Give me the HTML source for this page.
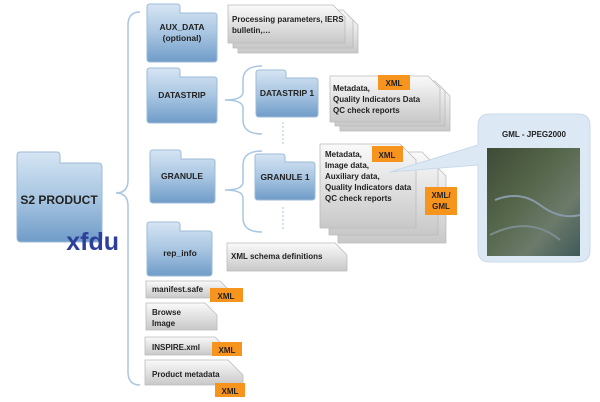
<!DOCTYPE html>
<html><head><meta charset="utf-8"><style>
html,body{margin:0;padding:0;background:#fff;width:600px;height:402px;overflow:hidden}
text{font-family:"Liberation Sans",sans-serif;font-weight:bold;fill:#222}
</style></head><body>
<svg width="600" height="402" viewBox="0 0 600 402" xmlns="http://www.w3.org/2000/svg">
<defs>
<linearGradient id="fg" x1="0" y1="0" x2="0" y2="1"><stop offset="0" stop-color="#d6e5f3"/><stop offset="0.5" stop-color="#a9c6e2"/><stop offset="1" stop-color="#6f9cc8"/></linearGradient>
<linearGradient id="dg" x1="0" y1="0" x2="0" y2="1"><stop offset="0" stop-color="#fafafa"/><stop offset="1" stop-color="#c8c8c8"/></linearGradient>
<linearGradient id="img" x1="0" y1="0" x2="1" y2="1"><stop offset="0" stop-color="#3e4a36"/><stop offset="0.4" stop-color="#55664a"/><stop offset="0.7" stop-color="#6c7a6a"/><stop offset="1" stop-color="#3f5a5a"/></linearGradient>
</defs>
<g fill="none" stroke="#a9c6e2" stroke-width="1.5">
<path d="M140 12 Q128 12 128 25 V180 Q128 193 116 193 Q128 193 128 206 V372 Q128 385 140 385"/>
<path d="M262 66 Q243 66 243 80 V92 Q243 100 225 100 Q243 100 243 108 V120 Q243 134 262 134"/>
<path d="M262 151 Q243 151 243 165 V182 Q243 190 225 190 Q243 190 243 198 V218 Q243 232 262 232"/>
</g>
<g stroke="#a9c6e2" stroke-width="1" stroke-dasharray="2,2"><line x1="283" y1="122" x2="283" y2="145"/><line x1="283" y1="207" x2="283" y2="230"/></g>
<g fill="url(#fg)" stroke="#9dbbd8" stroke-width="1">
<path d="M20 152 H57 Q60 152 60 156 V163 H98 Q102 163 102 167 V238 Q102 242 98 242 H21 Q17 242 17 238 V156 Q17 152 20 152Z"/>
<path d="M150 4 H177 Q180 4 180 7 V13 H214 Q217 13 217 16 V59 Q217 62 214 62 H150 Q147 62 147 59 V7 Q147 4 150 4Z"/>
<path d="M150 68 H177 Q180 68 180 71 V77 H214 Q217 77 217 80 V120 Q217 123 214 123 H150 Q147 123 147 120 V71 Q147 68 150 68Z"/>
<path d="M153 150 H178 Q181 150 181 153 V159 H212 Q215 159 215 162 V200 Q215 203 212 203 H153 Q150 203 150 200 V153 Q150 150 153 150Z"/>
<path d="M259 70 H283 Q286 70 286 73 V78 H315 Q318 78 318 81 V114 Q318 117 315 117 H259 Q256 117 256 114 V73 Q256 70 259 70Z"/>
<path d="M258 154 H282 Q285 154 285 157 V162 H312 Q315 162 315 165 V197 Q315 200 312 200 H258 Q255 200 255 197 V157 Q255 154 258 154Z"/>
<path d="M150 222 H177 Q180 222 180 225 V231 H209 Q212 231 212 234 V273 Q212 276 209 276 H150 Q147 276 147 273 V225 Q147 222 150 222Z"/>
</g>
<text x="59" y="204" font-size="12" text-anchor="middle">S2 PRODUCT</text>
<text x="119" y="250" font-size="25" text-anchor="end" style="fill:#2d3f9a;font-weight:900">xfdu</text>
<text x="182" y="30" font-size="8.5" text-anchor="middle">AUX_DATA</text>
<text x="182" y="41" font-size="8.5" text-anchor="middle">(optional)</text>
<text x="182" y="98" font-size="8.5" text-anchor="middle">DATASTRIP</text>
<text x="182" y="179" font-size="8.5" text-anchor="middle">GRANULE</text>
<text x="287" y="96" font-size="8.5" text-anchor="middle">DATASTRIP 1</text>
<text x="285" y="180" font-size="8.5" text-anchor="middle">GRANULE 1</text>
<text x="180" y="256" font-size="8.5" text-anchor="middle">rep_info</text>
<g fill="url(#dg)" stroke="#bbb" stroke-width="0.8">
<path d="M238 15 H348 L358 25 V53 H238Z"/><path d="M233 10 H343 L353 20 V48 H233Z"/><path d="M228 5 H333 L345 17 V43 H228Z"/>
<path d="M340 86 H440 L450 96 V131 H340Z"/><path d="M335 81 H435 L445 91 V126 H335Z"/><path d="M330 76 H428 L440 88 V122 H330Z"/>
<path d="M338 160 H430 L446 176 V243 H338Z"/><path d="M329 152 H422 L438 168 V235 H329Z"/><path d="M320 144 H400 L416 160 V228 H320Z"/>
<path d="M227 243 H335 L347 255 V271 H227Z"/>
<path d="M146 281 H220 L230 291 V298 H146Z"/>
<path d="M146 303 H205 L217 315 V330 H146Z"/>
<path d="M145 337 H215 L225 347 V355 H145Z"/>
<path d="M145 360 H228 L243 375 V385 H145Z"/>
</g>
<g font-size="8">
<text x="232" y="22">Processing parameters, IERS</text><text x="232" y="33">bulletin,…</text>
<text x="333" y="91">Metadata,</text><text x="333" y="102">Quality Indicators Data</text><text x="333" y="113">QC check reports</text>
<text x="325" y="157">Metadata,</text><text x="325" y="168">Image data,</text><text x="325" y="179">Auxiliary data,</text><text x="325" y="190">Quality Indicators data</text><text x="325" y="201">QC check reports</text>
<text x="231" y="259">XML schema definitions</text>
<text x="152" y="292">manifest.safe</text>
<text x="152" y="315">Browse</text><text x="152" y="326">Image</text>
<text x="152" y="350">INSPIRE.xml</text>
<text x="152" y="377">Product metadata</text>
</g>
<path d="M490 114 H578 Q590 114 590 126 V250 Q590 262 578 262 H490 Q478 262 478 250 V165 L390 172 L478 145 V126 Q478 114 490 114Z" fill="#dce9f5" stroke="#c8d9ea"/>
<text x="534" y="137" font-size="8" text-anchor="middle">GML - JPEG2000</text>
<rect x="487" y="148" width="93" height="108" fill="url(#img)"/>
<path d="M495 200 Q520 190 540 205 T580 215" stroke="#8a9aa8" stroke-width="2" fill="none"/>
<path d="M490 235 Q530 215 560 240" stroke="#7c8c90" stroke-width="2" fill="none"/>
<g fill="#f7941d">
<rect x="378" y="75" width="32" height="15"/><rect x="372" y="146" width="31" height="16"/><rect x="425" y="187" width="32" height="28"/>
<rect x="210" y="288" width="33" height="14"/><rect x="212" y="342" width="30" height="14"/><rect x="215" y="383" width="30" height="14"/>
</g>
<g font-size="8" text-anchor="middle">
<text x="394" y="86">XML</text><text x="387" y="158">XML</text><text x="441" y="198">XML/</text><text x="441" y="209">GML</text>
<text x="226" y="299">XML</text><text x="227" y="353">XML</text><text x="230" y="394">XML</text>
</g>
</svg>
</body></html>
